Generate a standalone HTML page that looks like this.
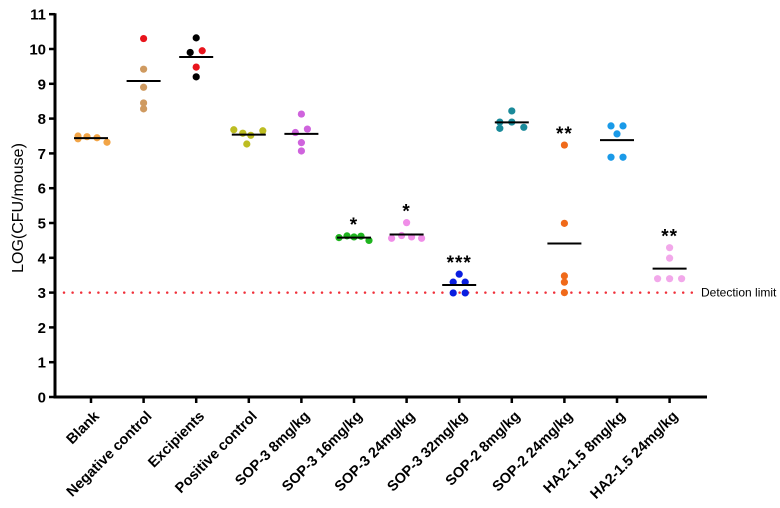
<!DOCTYPE html>
<html><head><meta charset="utf-8"><style>
body{margin:0;background:#fff}
svg{display:block;font-family:"Liberation Sans",Arial,sans-serif}
</style></head><body>
<svg id="chart" width="780" height="508" viewBox="0 0 780 508" xmlns="http://www.w3.org/2000/svg"></svg>
<script>
const categories=["Blank","Negative control","Excipients","Positive control","SOP-3 8mg/kg","SOP-3 16mg/kg","SOP-3 24mg/kg","SOP-3 32mg/kg","SOP-2 8mg/kg","SOP-2 24mg/kg","HA2-1.5 8mg/kg","HA2-1.5 24mg/kg"];
const values=[[7.5,7.48,7.42,7.45,7.32],[10.3,9.42,8.9,8.45,8.28],[10.32,9.9,9.95,9.48,9.2],[7.68,7.58,7.52,7.65,7.27],[8.13,7.7,7.6,7.31,7.07],[4.58,4.63,4.6,4.62,4.5],[5.01,4.64,4.6,4.56,4.56],[3.53,3.3,3.3,2.99,2.99],[8.22,7.9,7.9,7.75,7.72],[7.24,4.99,3.48,3.3,3.0],[7.79,7.79,7.56,6.89,6.89],[4.29,3.99,3.4,3.4,3.4]];
const means=[7.44,9.08,9.77,7.54,7.56,4.58,4.67,3.22,7.89,4.41,7.38,3.69];
const pointColors=[["#f2a547","#f2a547","#f2a547","#f2a547","#f2a547"],["#e8141c","#cf9a60","#cf9a60","#cf9a60","#cf9a60"],["#000","#000","#e8141c","#e8141c","#000"],["#bdbd22","#bdbd22","#bdbd22","#bdbd22","#bdbd22"],["#cf63dd","#cf63dd","#cf63dd","#cf63dd","#cf63dd"],["#1fb41f","#1fb41f","#1fb41f","#1fb41f","#1fb41f"],["#f08ee8","#f08ee8","#f08ee8","#f08ee8","#f08ee8"],["#0a1ee0","#0a1ee0","#0a1ee0","#0a1ee0","#0a1ee0"],["#1a8a9a","#1a8a9a","#1a8a9a","#1a8a9a","#1a8a9a"],["#f06a1a","#f06a1a","#f06a1a","#f06a1a","#f06a1a"],["#1a9ae8","#1a9ae8","#1a9ae8","#1a9ae8","#1a9ae8"],["#f2a8ea","#f2a8ea","#f2a8ea","#f2a8ea","#f2a8ea"]];
const jitter=[[-13,-4,-13,6,16],[0,0,0,0,0],[0,-6,6,0,0],[-15,-6,2,14,-2],[0,6,-6,0,0],[-15,-7,0,7,15],[0,-5,5,15,-15],[0,-6,6,-6,6],[0,-12,0,12,-12],[0,0,0,0,0],[-6,6,0,-6,6],[0,0,-12,0,12]];
const stars=["","","","","","*","*","***","","**","","**"];
const yTicks=[0,1,2,3,4,5,6,7,8,9,10,11];
const detectionLimit=3;
const svg=document.getElementById('chart');
const NS='http://www.w3.org/2000/svg';
function el(t,a,p){const e=document.createElementNS(NS,t);for(const k in a)e.setAttribute(k,a[k]);(p||svg).appendChild(e);return e;}
const x0=55,y0=397,yTop=14.2,xEnd=707;
function yS(v){return y0-(y0-yTop)*v/11;}
function xS(i){return 91+52.6*i;}
let a=el('line',{x1:x0,y1:yTop-1,x2:x0,y2:y0+1.5,stroke:'#000','stroke-width':3});


a=el('line',{x1:x0-1.5,y1:y0,x2:xEnd,y2:y0,stroke:'#000','stroke-width':3});


yTicks.forEach(v=>{
 const t=el('line',{x1:x0-6,y1:yS(v),x2:x0,y2:yS(v),stroke:'#000','stroke-width':2.5});
 
 
 const l=el('text',{x:x0-9,y:yS(v)+5.5,'text-anchor':'end','font-size':15,'font-weight':'bold'});
 l.textContent=v;
 
 
});
const yt=el('text',{x:0,y:0,transform:'translate(23,208) rotate(-90)','text-anchor':'middle','font-size':16});
yt.textContent='LOG(CFU/mouse)';


const dl=el('line',{x1:64,y1:yS(detectionLimit),x2:698,y2:yS(detectionLimit),stroke:'#f0303a','stroke-width':2.5,'stroke-dasharray':'0 8.6','stroke-linecap':'round'});


const dt=el('text',{x:701,y:yS(detectionLimit)+4,'font-size':12});
dt.textContent='Detection limit';


categories.forEach((c,i)=>{
 const x=xS(i);
 const t=el('line',{x1:x,y1:y0,x2:x,y2:y0+6,stroke:'#000','stroke-width':2.5});
 
 
 const l=el('text',{x:0,y:0,transform:`translate(${x+9},${y0+20}) rotate(-45)`,'text-anchor':'end','font-size':14.5,'font-weight':'bold'});
 l.textContent=c;
 
 
 values[i].forEach((v,j)=>{
  const d=el('circle',{cx:x+jitter[i][j],cy:yS(v),r:3.6,fill:pointColors[i][j]});
  
  
 });
 const m=el('line',{x1:x-17,y1:yS(means[i]),x2:x+17,y2:yS(means[i]),stroke:'#000','stroke-width':2});
 
 
 if(stars[i]){
  const mx=Math.max(...values[i]);
  const s=el('text',{x:x,y:yS(mx)-5,'text-anchor':'middle','font-size':19,'font-weight':'bold','letter-spacing':'1'});
  s.textContent=stars[i];
  
  
 }
});
</script>
</body></html>
